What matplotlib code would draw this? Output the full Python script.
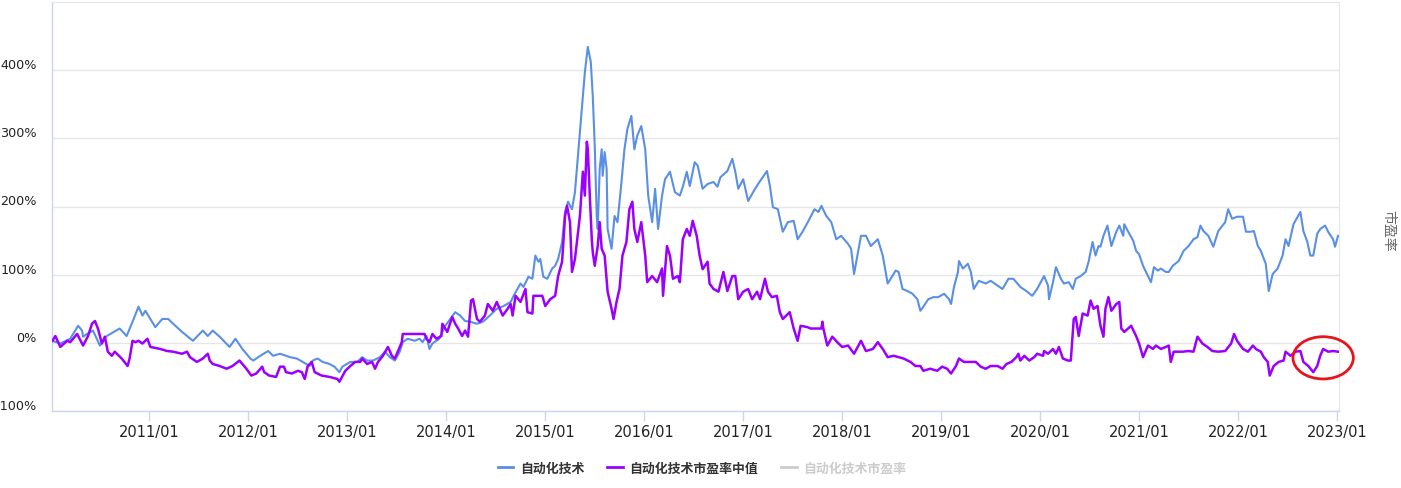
import matplotlib
matplotlib.use("Agg")
import matplotlib.pyplot as plt
from matplotlib.lines import Line2D
from matplotlib.patches import Ellipse
from matplotlib.transforms import ScaledTranslation

# ---- data (x = decimal year, y = % change) ----
blue_t = [2010.02, 2010.10, 2010.20, 2010.28, 2010.32, 2010.33, 2010.37, 2010.43, 2010.50, 2010.57,
          2010.70, 2010.77, 2010.83, 2010.89, 2010.93, 2010.96, 2011.01, 2011.06, 2011.13, 2011.19,
          2011.24, 2011.33, 2011.44, 2011.54, 2011.59, 2011.64, 2011.71, 2011.81, 2011.87, 2011.94,
          2012.02, 2012.05, 2012.12, 2012.20, 2012.25, 2012.32, 2012.42, 2012.49, 2012.55, 2012.62,
          2012.65, 2012.70, 2012.75, 2012.82, 2012.87, 2012.92, 2012.95, 2013.03, 2013.10, 2013.15,
          2013.20, 2013.26, 2013.33, 2013.38, 2013.43, 2013.48, 2013.53, 2013.56, 2013.61, 2013.68,
          2013.73, 2013.76, 2013.80, 2013.83, 2013.86, 2013.93, 2013.99, 2014.04, 2014.09, 2014.14,
          2014.19, 2014.24, 2014.31, 2014.37, 2014.44, 2014.51, 2014.58, 2014.65, 2014.68, 2014.75,
          2014.78, 2014.83, 2014.87, 2014.90, 2014.93, 2014.95, 2014.98, 2015.02, 2015.07, 2015.10,
          2015.13, 2015.17, 2015.20, 2015.23, 2015.27, 2015.30, 2015.33, 2015.37, 2015.40, 2015.43,
          2015.46, 2015.48, 2015.50, 2015.52, 2015.53, 2015.55, 2015.57, 2015.58, 2015.60, 2015.62,
          2015.63, 2015.67, 2015.70, 2015.73, 2015.77, 2015.80, 2015.83, 2015.87, 2015.90, 2015.93,
          2015.97, 2016.01, 2016.04, 2016.08, 2016.11, 2016.14, 2016.18, 2016.21, 2016.26, 2016.31,
          2016.36, 2016.39, 2016.43, 2016.46, 2016.51, 2016.54, 2016.59, 2016.64, 2016.70, 2016.74,
          2016.77, 2016.84, 2016.89, 2016.92, 2016.95, 2017.00, 2017.05, 2017.10, 2017.15, 2017.24,
          2017.27, 2017.30, 2017.35, 2017.40, 2017.45, 2017.51, 2017.55, 2017.60, 2017.66, 2017.72,
          2017.76, 2017.79, 2017.84, 2017.89, 2017.94, 2017.99, 2018.06, 2018.09, 2018.12, 2018.19,
          2018.24, 2018.29, 2018.36, 2018.41, 2018.46, 2018.49, 2018.54, 2018.57, 2018.61, 2018.66,
          2018.71, 2018.76, 2018.79, 2018.82, 2018.87, 2018.92, 2018.97, 2019.03, 2019.08, 2019.10,
          2019.13, 2019.17, 2019.18, 2019.22, 2019.27, 2019.30, 2019.33, 2019.38, 2019.45, 2019.50,
          2019.57, 2019.62, 2019.68, 2019.73, 2019.80, 2019.87, 2019.92, 2019.97, 2020.04, 2020.08,
          2020.09, 2020.13, 2020.16, 2020.21, 2020.24, 2020.29, 2020.33, 2020.36, 2020.41, 2020.46,
          2020.49, 2020.53, 2020.56, 2020.59, 2020.61, 2020.64, 2020.68, 2020.72, 2020.77, 2020.80,
          2020.84, 2020.85, 2020.89, 2020.94, 2020.97, 2021.00, 2021.04, 2021.07, 2021.12, 2021.15,
          2021.19, 2021.22, 2021.27, 2021.30, 2021.34, 2021.40, 2021.45, 2021.50, 2021.55, 2021.59,
          2021.62, 2021.65, 2021.70, 2021.75, 2021.80, 2021.87, 2021.90, 2021.94, 2021.99, 2022.05,
          2022.08, 2022.13, 2022.16, 2022.20, 2022.23, 2022.28, 2022.31, 2022.35, 2022.40, 2022.45,
          2022.48, 2022.51, 2022.56, 2022.63, 2022.66, 2022.70, 2022.73, 2022.76, 2022.80, 2022.83,
          2022.88, 2022.91, 2022.96, 2022.98, 2023.01]
blue_v = [3, -1, 6, 25, 18, 9, 13, 18, -4, 10,
          21, 10, 31, 53, 40, 47, 35, 23, 35, 35,
          28, 16, 3, 18, 10, 18, 9, -6, 6, -9,
          -23, -26, -19, -12, -19, -16, -21, -23, -28, -34,
          -26, -23, -28, -31, -35, -43, -35, -28, -28, -21,
          -26, -26, -21, -13, -21, -26, -13, 1, 6, 3,
          6, 1, 10, -9, -1, 6, 25, 35, 45, 40,
          32, 31, 28, 31, 40, 50, 54, 60, 69, 87,
          82, 97, 94, 128, 119, 123, 97, 94, 109, 113,
          123, 148, 192, 207, 196, 221, 274, 343, 397, 434,
          412, 362, 289, 186, 167, 255, 284, 245, 280, 255,
          167, 138, 186, 177, 236, 284, 314, 333, 284, 304,
          318, 284, 216, 177, 226, 167, 216, 240, 251, 221,
          216, 229, 251, 230, 265, 260, 226, 233, 236, 229,
          243, 252, 270, 251, 226, 240, 208, 221, 233, 252,
          230, 199, 196, 163, 177, 179, 152, 163, 179, 196,
          192, 201, 186, 177, 152, 157, 145, 138, 101, 157,
          157, 142, 152, 128, 87, 94, 106, 104, 79, 76,
          72, 64, 47, 53, 64, 67, 67, 72, 64, 57,
          82, 104, 120, 109, 116, 104, 79, 91, 87, 91,
          84, 79, 94, 94, 82, 75, 69, 79, 98, 84,
          64, 89, 111, 94, 87, 89, 79, 94, 98, 104,
          119, 148, 128, 142, 141, 157, 172, 142, 163, 172,
          157, 174, 163, 150, 135, 130, 113, 104, 89, 111,
          106, 109, 104, 104, 113, 120, 135, 142, 152, 155,
          172, 164, 157, 141, 164, 177, 196, 182, 185, 185,
          163, 163, 164, 142, 135, 116, 76, 101, 109, 128,
          152, 142, 174, 192, 164, 148, 128, 128, 160, 167,
          172, 163, 152, 141, 157]

purple_t = [2010.02, 2010.05, 2010.10, 2010.17, 2010.20, 2010.27, 2010.33, 2010.38, 2010.42, 2010.45,
            2010.48, 2010.52, 2010.55, 2010.58, 2010.62, 2010.65, 2010.72, 2010.78, 2010.80, 2010.83,
            2010.86, 2010.89, 2010.93, 2010.98, 2011.01, 2011.11, 2011.18, 2011.24, 2011.33, 2011.38,
            2011.41, 2011.48, 2011.54, 2011.59, 2011.61, 2011.64, 2011.71, 2011.78, 2011.84, 2011.91,
            2011.98, 2012.03, 2012.08, 2012.14, 2012.16, 2012.21, 2012.28, 2012.32, 2012.36, 2012.38,
            2012.44, 2012.50, 2012.54, 2012.57, 2012.60, 2012.64, 2012.67, 2012.74, 2012.82, 2012.90,
            2012.92, 2012.98, 2013.03, 2013.08, 2013.13, 2013.15, 2013.20, 2013.25, 2013.28, 2013.31,
            2013.36, 2013.41, 2013.45, 2013.48, 2013.51, 2013.55, 2013.56, 2013.78, 2013.80, 2013.83,
            2013.86, 2013.90, 2013.95, 2013.96, 2014.01, 2014.06, 2014.09, 2014.12, 2014.16, 2014.19,
            2014.22, 2014.25, 2014.27, 2014.31, 2014.34, 2014.39, 2014.42, 2014.47, 2014.51, 2014.57,
            2014.62, 2014.65, 2014.67, 2014.70, 2014.75, 2014.80, 2014.82, 2014.87, 2014.88, 2014.97,
            2015.00, 2015.05, 2015.10, 2015.13, 2015.17, 2015.20, 2015.22, 2015.25, 2015.27, 2015.30,
            2015.32, 2015.35, 2015.38, 2015.40, 2015.42, 2015.43, 2015.45, 2015.47, 2015.48, 2015.50,
            2015.53, 2015.55, 2015.57, 2015.60, 2015.63, 2015.67, 2015.69, 2015.72, 2015.75, 2015.78,
            2015.82, 2015.85, 2015.88, 2015.90, 2015.93, 2015.97, 2016.01, 2016.03, 2016.08, 2016.13,
            2016.18, 2016.19, 2016.23, 2016.26, 2016.29, 2016.34, 2016.36, 2016.39, 2016.43, 2016.46,
            2016.49, 2016.53, 2016.56, 2016.59, 2016.64, 2016.66, 2016.70, 2016.75, 2016.80, 2016.84,
            2016.89, 2016.92, 2016.95, 2017.00, 2017.05, 2017.09, 2017.14, 2017.17, 2017.22, 2017.25,
            2017.29, 2017.34, 2017.37, 2017.40, 2017.47, 2017.51, 2017.55, 2017.58, 2017.65, 2017.68,
            2017.79, 2017.80, 2017.81, 2017.85, 2017.90, 2017.95, 2018.00, 2018.06, 2018.12, 2018.19,
            2018.24, 2018.31, 2018.36, 2018.41, 2018.46, 2018.52, 2018.57, 2018.62, 2018.69, 2018.74,
            2018.79, 2018.82, 2018.89, 2018.96, 2019.01, 2019.06, 2019.10, 2019.15, 2019.18, 2019.23,
            2019.30, 2019.35, 2019.40, 2019.45, 2019.50, 2019.57, 2019.62, 2019.66, 2019.71, 2019.76,
            2019.78, 2019.80, 2019.84, 2019.89, 2019.94, 2019.97, 2020.03, 2020.04, 2020.08, 2020.13,
            2020.16, 2020.19, 2020.23, 2020.28, 2020.31, 2020.34, 2020.36, 2020.39, 2020.43, 2020.48,
            2020.51, 2020.54, 2020.58, 2020.61, 2020.64, 2020.66, 2020.69, 2020.72, 2020.77, 2020.80,
            2020.82, 2020.85, 2020.92, 2020.97, 2021.00, 2021.04, 2021.09, 2021.14, 2021.17, 2021.22,
            2021.27, 2021.30, 2021.32, 2021.35, 2021.44, 2021.50, 2021.55, 2021.59, 2021.64, 2021.69,
            2021.74, 2021.80, 2021.87, 2021.93, 2021.96, 2021.99, 2022.05, 2022.10, 2022.15, 2022.18,
            2022.23, 2022.26, 2022.30, 2022.32, 2022.36, 2022.41, 2022.46, 2022.48, 2022.53, 2022.58,
            2022.63, 2022.66, 2022.71, 2022.76, 2022.80, 2022.83, 2022.86, 2022.91, 2022.96, 2023.01]
purple_v = [3, 10, -6, 3, 1, 13, -4, 10, 28, 32,
            21, -1, 9, -13, -19, -13, -23, -34, -23, 3,
            1, 3, -1, 6, -6, -9, -12, -13, -16, -13,
            -21, -28, -23, -16, -26, -31, -34, -38, -34, -26,
            -38, -48, -45, -35, -43, -48, -50, -35, -35, -43,
            -45, -41, -43, -53, -34, -28, -43, -48, -50, -53,
            -57, -41, -34, -28, -28, -23, -31, -28, -38, -28,
            -19, -6, -19, -23, -13, 1, 13, 13, 6, 1,
            13, 6, 10, 28, 16, 38, 28, 21, 10, 18,
            9, 62, 64, 35, 31, 40, 57, 47, 60, 40,
            50, 57, 40, 69, 60, 79, 45, 43, 69, 69,
            54, 64, 69, 98, 119, 186, 201, 177, 104, 123,
            148, 186, 251, 216, 295, 284, 216, 152, 133, 113,
            142, 177, 138, 128, 75, 50, 35, 60, 79, 128,
            148, 196, 207, 167, 148, 177, 128, 89, 98, 89,
            109, 69, 142, 128, 94, 98, 89, 152, 167, 157,
            179, 157, 128, 108, 119, 87, 79, 75, 104, 76,
            98, 98, 64, 75, 79, 64, 75, 64, 94, 75,
            67, 69, 45, 35, 45, 21, 3, 25, 23, 21,
            21, 31, 21, -4, 9, 1, -6, -4, -16, 3,
            -12, -9, 1, -9, -21, -19, -21, -23, -28, -34,
            -34, -41, -38, -41, -35, -38, -45, -34, -23, -28,
            -28, -28, -35, -38, -34, -34, -38, -31, -28, -21,
            -16, -26, -19, -26, -21, -16, -19, -12, -16, -9,
            -16, -6, -23, -26, -26, 35, 38, 10, 43, 40,
            62, 50, 54, 25, 9, 50, 67, 47, 57, 60,
            21, 16, 25, 10, -1, -21, -4, -9, -4, -9,
            -6, -4, -28, -13, -13, -12, -13, 9, -1, -6,
            -12, -13, -12, -1, 13, 3, -9, -13, -4, -9,
            -13, -21, -28, -48, -34, -28, -26, -13, -19, -13,
            -12, -28, -34, -43, -34, -19, -9, -13, -12, -13]

series_names = ["自动化技术", "自动化技术市盈率中值", "自动化技术市盈率"]
year_ticks = list(range(2011, 2024))
year_labels = [f"{y}/01" for y in year_ticks]
y_ticks = [-100, 0, 100, 200, 300, 400]
y_labels = ["-100%", "0%", "100%", "200%", "300%", "400%"]
right_label = "市盈率"

BLUE = "#5a8fe6"
PURPLE = "#9b00ff"
GRAY = "#cccccc"
CJK = ["Noto Sans CJK SC", "DejaVu Sans"]

fig = plt.figure(figsize=(14.01, 4.89), dpi=100)
W, H = 1401, 489
ax = fig.add_axes([52 / W, 1 - 412 / H, (1339 - 52) / W, (412 - 3) / H])

ax.plot(blue_t, blue_v, color=BLUE, lw=1.5, solid_joinstyle="round", zorder=3)
ax.plot(purple_t, purple_v, color=PURPLE, lw=1.8, solid_joinstyle="round", zorder=4)

ax.set_xlim(2010.016, 2023.02)
ax.set_ylim(-100, 500)

ax.set_yticks(y_ticks)
ax.set_yticklabels(y_labels)
ax.set_xticks(year_ticks)
ax.set_xticklabels(year_labels)

ax.grid(axis="y", color="#e6e6e6", lw=1)
ax.set_axisbelow(True)
for s in ["top", "right"]:
    ax.spines[s].set_color("#e6e6e6")
    ax.spines[s].set_linewidth(0.8)
for s in ["left", "bottom"]:
    ax.spines[s].set_color("#ccd6eb")
    ax.spines[s].set_linewidth(1)

ax.tick_params(axis="y", length=0, pad=11, labelsize=9.2, labelcolor="#222222")
ax.tick_params(axis="x", length=7.5, width=1, color="#ccd6eb", pad=2,
               labelsize=10.5, labelcolor="#222222")
off = ScaledTranslation(0, 7 / 100, fig.dpi_scale_trans)
for lab in ax.get_yticklabels():
    lab.set_transform(lab.get_transform() + off)

# red ellipse highlight
ell = Ellipse((2022.86, -22), 0.61, 62, fill=False, edgecolor="#e8141c",
              lw=2.0, clip_on=False, zorder=6)
ax.add_patch(ell)

# right axis title
fig.text(1388 / W, 1 - 231 / H, right_label, rotation=-90, ha="center", va="center",
         fontsize=10, color="#666666", family=CJK)

# legend
handles = [Line2D([], [], color=BLUE, lw=2),
           Line2D([], [], color=PURPLE, lw=2),
           Line2D([], [], color=GRAY, lw=2)]
leg = fig.legend(handles, series_names, loc="center", bbox_to_anchor=(702 / W, 1 - 469 / H),
                 ncol=3, frameon=False, handlelength=1.2, handletextpad=0.5,
                 columnspacing=1.8, prop={"family": CJK, "weight": "bold", "size": 9.3})
for t, c in zip(leg.get_texts(), ["#333333", "#333333", GRAY]):
    t.set_color(c)

fig.savefig("out.png", dpi=100)
